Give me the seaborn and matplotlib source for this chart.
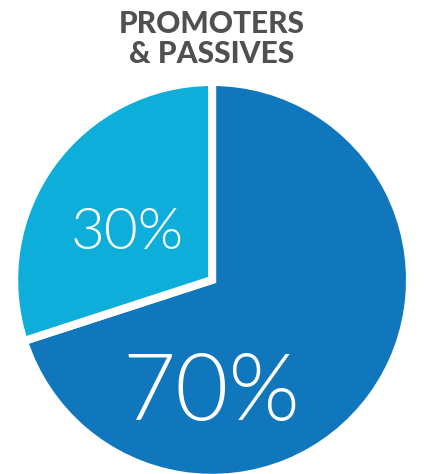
import matplotlib
matplotlib.use("Agg")
import matplotlib.pyplot as plt
import seaborn as sns

sns.set_theme(style="white")
plt.rcParams["font.family"] = ["Lato", "DejaVu Sans"]

# data
labels = ["Promoters", "Passives"]
shares = [70, 30]
colors = ["#1177bd", "#0eaedb"]
title = "PROMOTERS\n& PASSIVES"

fig = plt.figure(figsize=(4.40, 4.74), dpi=100)
ax = fig.add_axes([0.041, 0.0, 0.882, 0.819])

wedges, texts, autotexts = ax.pie(
    shares,
    colors=colors,
    startangle=90,
    counterclock=False,
    radius=1.02,
    autopct="%d%%",
    pctdistance=0.51,
    wedgeprops=dict(edgecolor="white", linewidth=5.8),
    textprops=dict(color="white", fontweight=300),
)
# big label for the main slice, smaller one for the other
autotexts[0].set_fontsize(66)
autotexts[0].set_position((-0.005, -0.59))
autotexts[1].set_fontsize(42)
autotexts[1].set_position((-0.438, 0.24))

ax.set_xlim(-1, 1)
ax.set_ylim(-1, 1)
ax.set_aspect("equal")
ax.axis("off")

fig.text(0.482, 0.978, title, ha="center", va="top", fontsize=21.5,
         fontweight="black", color="#505050", linespacing=1.05)

fig.savefig("out.png", dpi=100, facecolor="white")
